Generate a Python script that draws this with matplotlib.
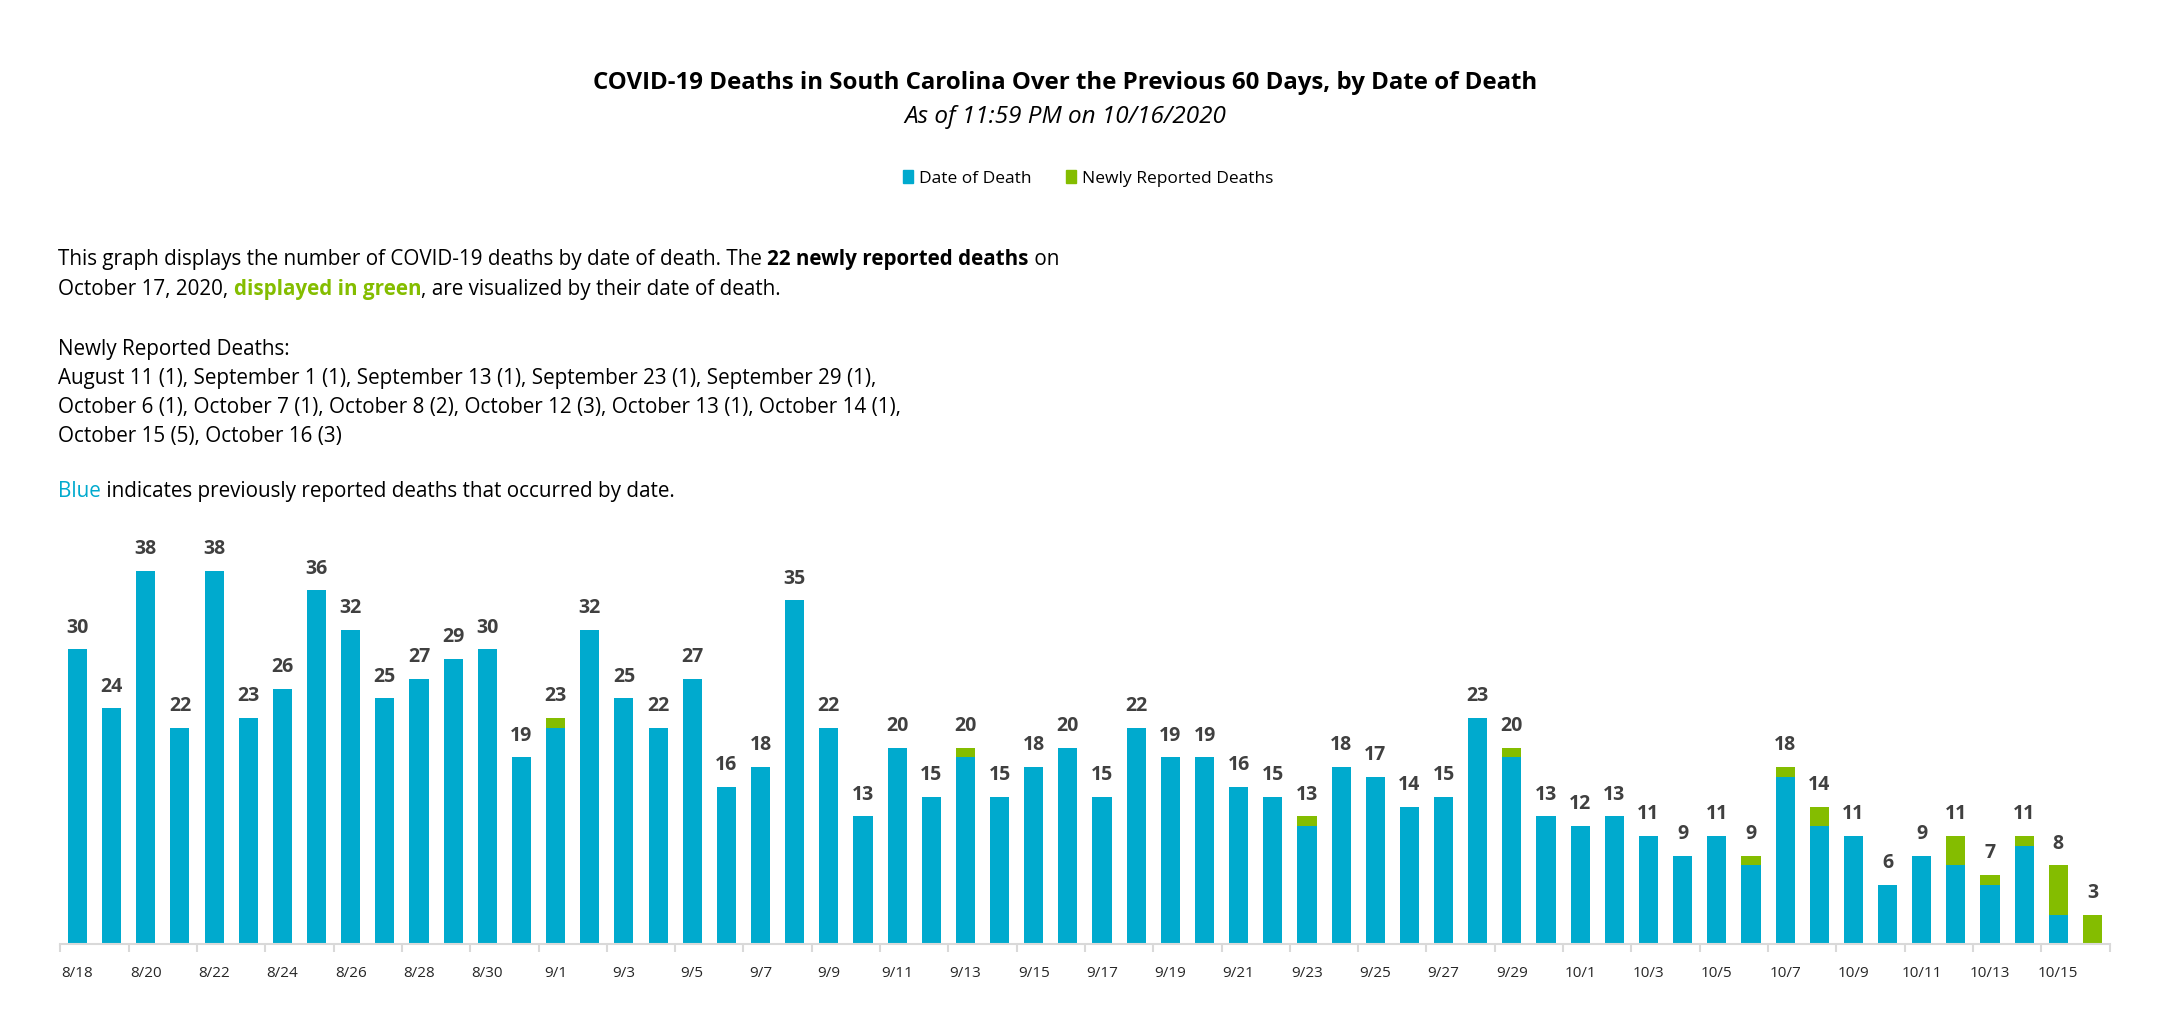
import matplotlib
matplotlib.use('Agg')
import matplotlib.pyplot as plt
from matplotlib.patches import Patch

# dates of death, 8/18 .. 10/16
dates = ['8/18', '8/19', '8/20', '8/21', '8/22', '8/23', '8/24', '8/25', '8/26', '8/27',
         '8/28', '8/29', '8/30', '8/31', '9/1', '9/2', '9/3', '9/4', '9/5', '9/6',
         '9/7', '9/8', '9/9', '9/10', '9/11', '9/12', '9/13', '9/14', '9/15', '9/16',
         '9/17', '9/18', '9/19', '9/20', '9/21', '9/22', '9/23', '9/24', '9/25', '9/26',
         '9/27', '9/28', '9/29', '9/30', '10/1', '10/2', '10/3', '10/4', '10/5', '10/6',
         '10/7', '10/8', '10/9', '10/10', '10/11', '10/12', '10/13', '10/14', '10/15', '10/16']

# totals shown above each bar
totals = [30, 24, 38, 22, 38, 23, 26, 36, 32, 25,
          27, 29, 30, 19, 23, 32, 25, 22, 27, 16,
          18, 35, 22, 13, 20, 15, 20, 15, 18, 20,
          15, 22, 19, 19, 16, 15, 13, 18, 17, 14,
          15, 23, 20, 13, 12, 13, 11, 9, 11, 9,
          18, 14, 11, 6, 9, 11, 7, 11, 8, 3]

# newly reported deaths (green part)
new = [0, 0, 0, 0, 0, 0, 0, 0, 0, 0,
       0, 0, 0, 0, 1, 0, 0, 0, 0, 0,
       0, 0, 0, 0, 0, 0, 1, 0, 0, 0,
       0, 0, 0, 0, 0, 0, 1, 0, 0, 0,
       0, 0, 1, 0, 0, 0, 0, 0, 0, 1,
       1, 2, 0, 0, 0, 3, 1, 1, 5, 3]

previous = [t - n for t, n in zip(totals, new)]

BLUE = '#00AACE'
GREEN = '#84BD00'
FONT = 'Open Sans'

plt.rcParams['font.family'] = [FONT, 'DejaVu Sans']

fig = plt.figure(figsize=(21.57, 10.24), dpi=100)
ax = fig.add_axes([0.028, 0.078125, 0.950, 0.3836])

x = list(range(len(dates)))
ax.bar(x, previous, width=0.56, color=BLUE)
ax.bar(x, new, width=0.56, bottom=previous, color=GREEN)

for i, t in enumerate(totals):
    ax.text(i, t + 1.2, str(t), ha='center', va='bottom', fontsize=14,
            fontweight='bold', color='#404040')

ax.set_xlim(-0.5, len(dates) - 0.5)
ax.set_ylim(0, 40)
ax.set_yticks([])
for s in ['top', 'right', 'left']:
    ax.spines[s].set_visible(False)
ax.spines['bottom'].set_color('#D9D9D9')
ax.spines['bottom'].set_linewidth(1.5)

# ticks on the boundaries, labels on every other bar
ax.set_xticks([i - 0.5 for i in range(0, len(dates) + 1, 2)])
ax.set_xticklabels([])
ax.tick_params(axis='x', which='major', length=6, color='#D9D9D9', width=1.5)
ax.set_xticks(x[::2], minor=True)
ax.set_xticklabels(dates[::2], minor=True)
ax.tick_params(axis='x', which='minor', length=0, pad=16, labelsize=11, labelcolor='#262626')

fig.text(0.4937, 0.919, 'COVID-19 Deaths in South Carolina Over the Previous 60 Days, by Date of Death',
         ha='center', va='center', fontsize=17.3, fontweight='bold', color='black')
fig.text(0.4937, 0.886, 'As of 11:59 PM on 10/16/2020', ha='center', va='center',
         fontsize=17.5, style='italic', color='black')

handles = [Patch(color=BLUE, label='Date of Death'), Patch(color=GREEN, label='Newly Reported Deaths')]
fig.legend(handles=handles, loc='center', bbox_to_anchor=(0.5044, 0.826), ncol=2, frameon=False,
           fontsize=12.5, handlelength=0.6, handleheight=0.8, handletextpad=0.3, columnspacing=2.0)

renderer = fig.canvas.get_renderer()


def draw_runs(y, runs, x0=58 / 2157):
    # draw text pieces one after another on a line
    xp = x0
    for txt, weight, color in runs:
        t = fig.text(xp, y, txt, ha='left', va='baseline', fontsize=14.9,
                     fontweight=weight, color=color)
        bb = t.get_window_extent(renderer=renderer)
        xp += bb.width / fig.bbox.width


lines = [
    (265, [('This graph displays the number of COVID-19 deaths by date of death. The ', 'normal', 'black'),
           ('22 newly reported deaths', 'bold', 'black'), (' on', 'normal', 'black')]),
    (295, [('October 17, 2020, ', 'normal', 'black'), ('displayed in green', 'bold', GREEN),
           (', are visualized by their date of death.', 'normal', 'black')]),
    (355, [('Newly Reported Deaths:', 'normal', 'black')]),
    (384, [('August 11 (1), September 1 (1), September 13 (1), September 23 (1), September 29 (1),',
            'normal', 'black')]),
    (413, [('October 6 (1), October 7 (1), October 8 (2), October 12 (3), October 13 (1), October 14 (1),',
            'normal', 'black')]),
    (442, [('October 15 (5), October 16 (3)', 'normal', 'black')]),
    (497, [('Blue', 'normal', BLUE), (' indicates previously reported deaths that occurred by date.',
                                       'normal', 'black')]),
]
for ypx, runs in lines:
    draw_runs(1 - ypx / 1024, runs)

fig.savefig('out.png', dpi=100)
